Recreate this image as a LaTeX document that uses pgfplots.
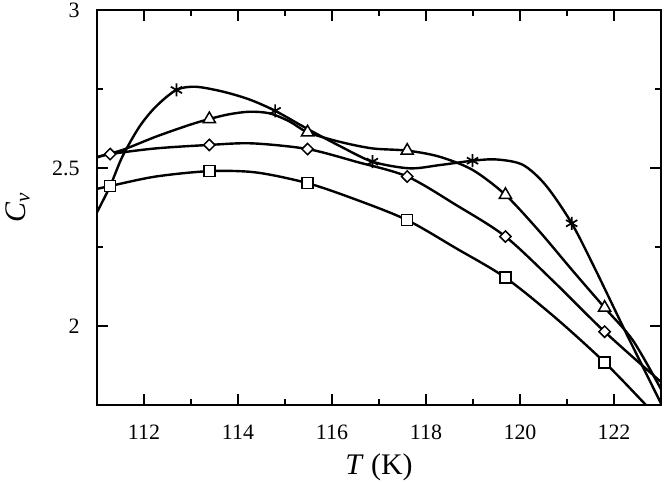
\documentclass[border=0pt]{standalone}
\usepackage{fontspec}
\setmainfont{Liberation Serif}
\usepackage{pgfplots}
\pgfplotsset{compat=1.18}
\begin{document}
\begin{tikzpicture}
\path[use as bounding box] (-97bp,-79bp) rectangle (567bp,405bp);
\begin{axis}[
  scale only axis,
  width=564bp, height=395bp,
  xmin=111, xmax=123, ymin=1.75, ymax=3,
  xtick={112,114,...,122}, ytick={2,2.5,3},
  minor x tick num=1, minor y tick num=1,
  tick align=inside,
  major tick length=11bp, minor tick length=6bp,
  tick style={line width=1.1bp, black},
  axis line style={line width=2.6bp},
  /pgf/number format/assume math mode=true,
  ticklabel style={font=\fontsize{22}{26}\selectfont},
  xticklabel style={anchor=center, yshift=-27bp},
  yticklabel style={anchor=east, xshift=-14bp},
  xlabel={\textit{T} (K)},
  ylabel={\textit{C}\textsubscript{\textit{v}}},
  label style={font=\fontsize{30}{34}\selectfont},
  xlabel style={at={(axis description cs:0.5,0)}, anchor=center, yshift=-62bp},
  ylabel style={at={(axis description cs:0,0.5)}, anchor=center, yshift=79bp},
  every axis plot/.append style={line width=2.4bp, black},
  clip=true,
]
% star curve
\addplot[smooth, no marks] coordinates {
(111.0,2.36) (111.28,2.443) (111.54,2.536) (111.9,2.63) (112.25,2.694) (112.69,2.747) (113.1,2.757) (113.67,2.742) (114.24,2.717) (114.79,2.681) (115.45,2.626) (116.16,2.57) (116.86,2.52) (117.65,2.499) (118.28,2.509) (118.99,2.523) (119.5,2.527) (120.06,2.51) (120.55,2.445) (121.1,2.325) (121.6,2.18) (122.25,1.98) (123.0,1.755)
};
\addplot[only marks, mark=asterisk, mark size=6.5bp, mark options={line width=1.7bp}] coordinates {
(112.69,2.747) (114.79,2.681) (116.86,2.52) (118.99,2.523) (121.1,2.325)
};
% triangle curve
\addplot[smooth, no marks] coordinates {
(111.0,2.535) (111.54,2.557) (112.25,2.599) (112.96,2.636) (113.39,2.655) (113.81,2.670) (114.24,2.678) (114.67,2.673) (115.1,2.647) (115.48,2.613) (116.16,2.583) (116.86,2.562) (117.6,2.555) (118.28,2.536) (118.99,2.494) (119.69,2.415) (120.41,2.30) (121.12,2.175) (121.8,2.058) (122.4,1.955) (123.0,1.80)
};
\addplot[only marks, mark=triangle*, mark size=7bp, mark options={fill=white, line width=1.5bp}] coordinates {
(113.39,2.655) (115.48,2.613) (117.6,2.555) (119.69,2.415) (121.8,2.058)
};
% diamond curve
\addplot[smooth, no marks] coordinates {
(111.0,2.533) (111.28,2.544) (112.25,2.562) (113.39,2.573) (114.3,2.578) (115.48,2.56) (116.51,2.52) (117.6,2.473) (118.64,2.383) (119.69,2.283) (120.77,2.133) (121.8,1.982) (123.0,1.823)
};
\addplot[only marks, mark=square*, mark size=4bp, mark options={fill=white, line width=1.5bp, rotate=45}] coordinates {
(111.28,2.544) (113.39,2.573) (115.48,2.56) (117.6,2.473) (119.69,2.283) (121.8,1.982)
};
% square curve
\addplot[smooth, no marks] coordinates {
(111.0,2.434) (111.28,2.443) (112.25,2.473) (113.39,2.49) (114.38,2.486) (115.48,2.452) (116.51,2.40) (117.6,2.335) (118.64,2.246) (119.69,2.153) (120.77,2.024) (121.8,1.885) (122.68,1.75) (123.0,1.70)
};
\addplot[only marks, mark=square*, mark size=5.5bp, mark options={fill=white, line width=1.5bp}] coordinates {
(111.28,2.443) (113.39,2.49) (115.48,2.452) (117.6,2.335) (119.69,2.153) (121.8,1.885)
};
\end{axis}
\end{tikzpicture}
\end{document}
